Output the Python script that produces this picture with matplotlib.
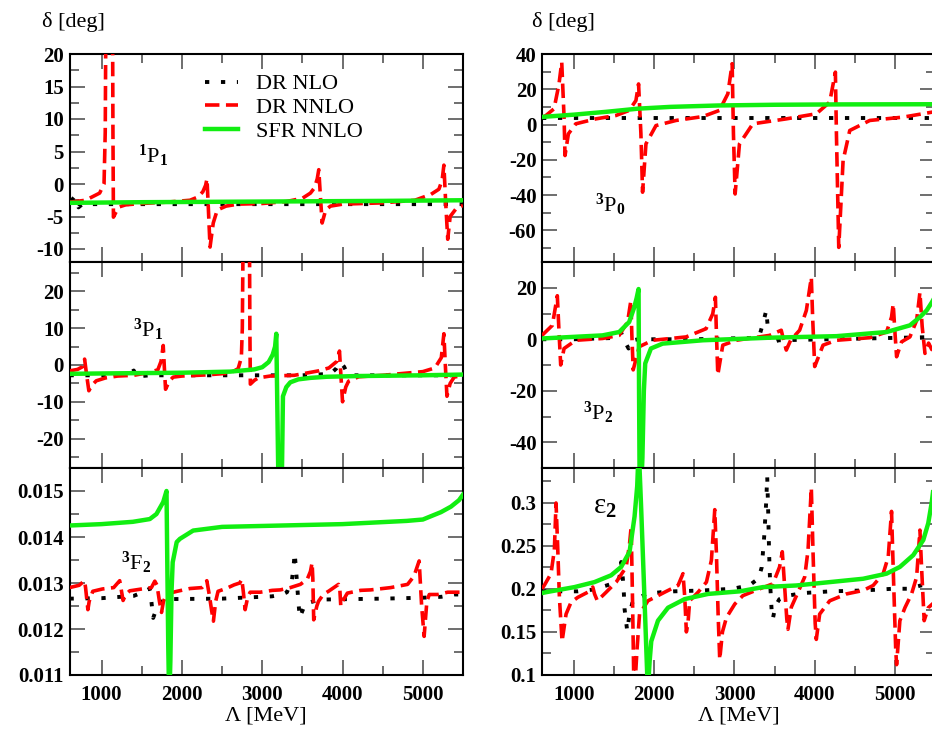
import matplotlib
matplotlib.use('Agg')
import matplotlib.pyplot as plt
from matplotlib.ticker import MultipleLocator, FuncFormatter

plt.rcParams['font.family'] = ['Liberation Serif', 'DejaVu Serif']
plt.rcParams['font.weight'] = 'bold'
plt.rcParams['mathtext.fontset'] = 'custom'
plt.rcParams['mathtext.rm'] = 'Liberation Serif'
plt.rcParams['mathtext.it'] = 'Liberation Serif:italic'
plt.rcParams['mathtext.bf'] = 'Liberation Serif:bold'
plt.rcParams['axes.unicode_minus'] = False

# ---------------- data ----------------
series_labels = ['DR NLO', 'DR NNLO', 'SFR NNLO']
x_label = 'Λ [MeV]'
y_label = 'δ [deg]'
panel_names = [r'$^1$P$_1$', r'$^3$P$_1$', r'$^3$F$_2$', r'$^3$P$_0$', r'$^3$P$_2$', r'ε$_2$']

# 1P1
a_nlo_x = [620, 662, 712, 760, 1500, 2500, 3500, 4500, 5500]
a_nlo_y = [-2.6, -2.0, -3.6, -3.1, -3.1, -3.1, -3.1, -3.1, -3.1]
a_nnlo_x = [600, 800, 975, 1030, 1045, 1055, 1135, 1141, 1147, 1180, 1225, 1300, 1500, 1800, 2100, 2200,
            2260, 2295, 2312, 2330, 2350, 2390, 2440, 2550, 2700, 3000, 3300, 3500, 3600, 3650, 3685, 3704,
            3725, 3746, 3790, 3850, 4000, 4500, 4900, 5100, 5200, 5240, 5262, 5285, 5310, 5340, 5420, 5500]
a_nnlo_y = [-2.8, -2.5, -1.4, 0.0, 8, 30, 30, 8, -5.1, -4.3, -3.5, -3.2, -3.0, -2.8, -2.5, -2.0,
            -1.2, -0.2, 0.8, -4, -9.7, -6, -4, -3.4, -3.1, -3.0, -2.7, -2.2, -1.4, -0.6, 0.8, 2.2,
            -2, -6, -4, -3.4, -3.1, -2.9, -2.5, -1.6, -0.8, 0.6, 2.9, -3, -8.5, -5, -3.7, -3.3]
a_sfr_x = [600, 1500, 3000, 4500, 5500]
a_sfr_y = [-2.9, -2.8, -2.7, -2.6, -2.5]

# 3P1
b_nlo_x = [600, 1000, 1330, 1400, 1450, 1500, 1600, 2500, 3500, 3850, 3920, 3970, 4020, 4060, 4150, 5000, 5500]
b_nlo_y = [-2.8, -2.8, -2.5, -1.5, -3.5, -3.0, -2.8, -2.8, -2.8, -2.4, -1.0, 0.8, -0.5, -2.3, -2.8, -2.8, -2.8]
b_nnlo_x = [600, 700, 760, 788, 815, 841, 880, 933, 1050, 1200, 1400, 1600, 1700, 1740, 1767, 1782,
            1796, 1840, 1890, 2000, 2300, 2600, 2700, 2740, 2752, 2760, 2842, 2846, 2852, 2900, 2950, 3100,
            3400, 3700, 3830, 3930, 3962, 3980, 4000, 4040, 4075, 4200, 4500, 5000, 5150, 5230, 5262, 5280,
            5300, 5340, 5390, 5500]
b_nnlo_y = [-1.6, -1.2, -0.5, 1.6, -3, -7, -5.5, -4.3, -3.5, -3.0, -2.8, -2.0, -1.3, 1, 5.3, -1,
            -6.6, -4.5, -3.3, -3.0, -2.7, -2.2, -1.0, 2, 10, 30, 30, 10, -5.2, -4.2, -3.5, -3.0,
            -2.8, -1.6, -0.8, 1.0, 3.8, -3, -10, -6, -4.4, -3.2, -2.8, -1.8, -0.8, 2, 8.5, 0,
            -8.5, -5, -3.3, -2.8]
b_sfr_x = [600, 1000, 2000, 2600, 2900, 3000, 3080, 3130, 3160, 3175, 3200, 3245, 3258, 3300, 3350,
           3450, 3600, 3800, 4200, 5000, 5500]
b_sfr_y = [-2.4, -2.3, -2.1, -1.8, -1.2, -0.6, 0.8, 2.8, 5.0, 8.5, -30, -30, -8.5, -6.0, -4.7,
           -3.9, -3.5, -3.2, -3.0, -2.8, -2.6]

# 3F2
c_nlo_x = [600, 1000, 1400, 1540, 1600, 1621, 1642, 1683, 1733, 1808, 2500, 3121, 3250, 3308, 3371, 3392,
           3404, 3420, 3433, 3446, 3467, 3537, 3717, 4500, 5000, 5230, 5392, 5500]
c_nlo_y = [0.01266, 0.01267, 0.01272, 0.01282, 0.01288, 0.01258, 0.01224, 0.01244, 0.01258, 0.01265,
           0.01266, 0.01271, 0.01275, 0.0128, 0.01308, 0.0134, 0.01365, 0.01331, 0.01301, 0.01268,
           0.01225, 0.01255, 0.01264, 0.01266, 0.01268, 0.0127, 0.01275, 0.01275]
c_nnlo_x = [600, 720, 787, 800, 829, 845, 890, 1010, 1150, 1225, 1240, 1267, 1300, 1350, 1500, 1620,
            1662, 1690, 1720, 1746, 1770, 1800, 1850, 1940, 2100, 2250, 2290, 2310, 2340, 2370, 2392, 2420,
            2450, 2550, 2650, 2720, 2746, 2765, 2787, 2820, 2850, 2975, 3125, 3225, 3350, 3475, 3560, 3600,
            3621, 3630, 3641, 3680, 3700, 3760, 3825, 3950, 3965, 3978, 4000, 4060, 4225, 4350, 4600, 4810,
            4890, 4954, 4985, 5016, 5050, 5080, 5185, 5310, 5500]
c_nnlo_y = [0.0129, 0.01295, 0.01305, 0.0129, 0.01242, 0.0126, 0.01282, 0.01287, 0.0129, 0.01305,
            0.0129, 0.01262, 0.01275, 0.01283, 0.01287, 0.0129, 0.01304, 0.01295, 0.0126, 0.01236,
            0.0126, 0.01272, 0.01278, 0.01282, 0.01288, 0.0129, 0.01298, 0.01305, 0.01275, 0.0124,
            0.01217, 0.0126, 0.01282, 0.01288, 0.01296, 0.013, 0.01308, 0.0128, 0.01242, 0.0127,
            0.0128, 0.0128, 0.01284, 0.01285, 0.0129, 0.01297, 0.01308, 0.01325, 0.01344, 0.0131,
            0.0122, 0.0125, 0.0126, 0.01275, 0.01282, 0.01297, 0.0129, 0.0125, 0.0126, 0.01278,
            0.01284, 0.01285, 0.0129, 0.01297, 0.01315, 0.01348, 0.0125, 0.01184, 0.0126, 0.01275,
            0.01275, 0.0128, 0.0128]
c_sfr_x = [600, 1000, 1388, 1600, 1683, 1767, 1808, 1818, 1830, 1842, 1856, 1870, 1885, 1935, 1975, 2140,
           2500, 3000, 4000, 4800, 5000, 5225, 5350, 5450, 5500]
c_sfr_y = [0.01425, 0.01428, 0.01433, 0.01439, 0.0145, 0.01476, 0.0150, 0.0134, 0.0116, 0.0104,
           0.0113, 0.0128, 0.01345, 0.01389, 0.01396, 0.01414, 0.01422, 0.01424, 0.01428, 0.01435,
           0.01438, 0.01454, 0.01466, 0.0148, 0.01492]

# 3P0
d_nlo_x = [600, 2000, 4000, 5500]
d_nlo_y = [3.8, 3.8, 3.8, 3.8]
d_nnlo_x = [600, 646, 750, 812, 846, 875, 887, 929, 1021, 1271, 1521, 1687, 1771, 1804, 1833, 1854,
            1896, 2021, 2271, 2604, 2812, 2917, 2971, 2987, 3008, 3062, 3229, 3646, 4021, 4187, 4258, 4271,
            4300, 4354, 4437, 4687, 5104, 5462, 5500]
d_nnlo_y = [4.0, 5.0, 8.9, 23, 35.4, 4.2, -17.6, -5.3, 0.4, 3.2, 5.1, 8, 13.6, 23, -5, -38.4,
            -11, -0.6, 2.3, 4.5, 8, 17.4, 34.5, -5.3, -39.4, -11, 0.4, 3.2, 6.1, 12.7, 29.7, -5.3,
            -69.7, -20.5, -3.4, 2.3, 4.2, 7.0, 7.2]
d_sfr_x = [600, 1000, 1400, 1800, 2200, 2800, 3500, 4300, 5500]
d_sfr_y = [4.3, 5.6, 7.2, 9.0, 10.0, 10.8, 11.2, 11.4, 11.5]

# 3P2
e_nlo_x = [600, 1000, 1500, 1540, 1583, 1625, 1679, 1720, 1800, 2500, 3200, 3312, 3354, 3396, 3417, 3437,
           3500, 3550, 4500, 5400, 5500]
e_nlo_y = [0.0, 0.0, 0.5, 1.5, 2.8, -0.4, -3.6, -0.5, 0.0, 0.0, 0.5, 1.5, 6.0, 11.2, 4.1, -1.7,
           -1.0, -0.4, 0.2, 0.8, 0.8]
e_nnlo_x = [600, 729, 791, 812, 833, 875, 1021, 1354, 1562, 1667, 1708, 1720, 1737, 1812, 1979, 2396,
            2646, 2729, 2762, 2775, 2792, 2854, 3021, 3437, 3583, 3610, 3646, 3700, 3812, 3896, 3958, 3975,
            4000, 4104, 4270, 4687, 4896, 4958, 4979, 5000, 5021, 5083, 5187, 5271, 5312, 5340, 5375, 5420,
            5460, 5500]
e_nnlo_y = [1.5, 5.4, 16.9, 3, -10, -3.6, -0.4, 0.3, 1.5, 6.7, 15, 2, -11.9, -2.9, -0.4, 0.9,
            4.1, 9.9, 16.3, 2, -13.8, -2.3, -0.4, 1.5, 3.5, 0, -4.2, -0.4, 3.5, 11.2, 24, 8,
            -10.6, -2.3, -0.4, 0.6, 2.8, 8.6, 13.7, 3, -6.8, -1, 0.9, 7.3, 18.2, 5, -5.5, -1.5,
            -4, -1]
e_sfr_x = [600, 1354, 1562, 1687, 1750, 1780, 1804, 1810, 1818, 1835, 1852, 1870, 1887, 1958, 2104, 2604,
           3437, 4271, 4896, 5187, 5312, 5396, 5462, 5500]
e_sfr_y = [0.3, 1.5, 2.8, 6.7, 12.4, 16, 19.5, -20, -60, -60, -46, -20, -9.4, -3.6, -1.7, -0.4,
           0.6, 1.2, 2.8, 5.4, 8.6, 11.2, 14.4, 16.5]

# epsilon 2
f_nlo_x = [600, 858, 1046, 1233, 1412, 1540, 1567, 1587, 1608, 1621, 1629, 1650, 1662, 1692, 1733, 1900,
           2083, 2246, 2600, 2979, 3187, 3300, 3340, 3370, 3395, 3408, 3420, 3432, 3445, 3465, 3478, 3510,
           3560, 3667, 3854, 4200, 4600, 4979, 5167, 5333, 5500]
f_nlo_y = [0.197, 0.197, 0.197, 0.199, 0.204, 0.208, 0.214, 0.231, 0.212, 0.194, 0.177, 0.161, 0.151,
           0.171, 0.186, 0.194, 0.196, 0.197, 0.198, 0.200, 0.204, 0.212, 0.225, 0.26, 0.30, 0.33, 0.29,
           0.24, 0.205, 0.172, 0.165, 0.18, 0.188, 0.192, 0.195, 0.197, 0.198, 0.200, 0.200, 0.204, 0.204]
f_nnlo_x = [600, 629, 712, 754, 775, 795, 817, 850, 900, 962, 1046, 1171, 1233, 1255, 1290, 1400,
            1525, 1650, 1692, 1712, 1730, 1745, 1760, 1785, 1816, 1921, 2129, 2296, 2358, 2380, 2400, 2420,
            2441, 2546, 2650, 2712, 2754, 2775, 2796, 2816, 2850, 2900, 3004, 3104, 3312, 3479, 3562, 3596,
            3620, 3652, 3667, 3708, 3792, 3875, 3917, 3958, 3980, 4006, 4020, 4062, 4187, 4396, 4604, 4729,
            4854, 4917, 4958, 4980, 5010, 5021, 5062, 5125, 5208, 5271, 5312, 5335, 5365, 5416, 5500]
f_nnlo_y = [0.200, 0.204, 0.2175, 0.2448, 0.2994, 0.25, 0.19, 0.139, 0.1706, 0.1843, 0.19, 0.196,
            0.202, 0.194, 0.186, 0.196, 0.2077, 0.2253, 0.2526, 0.272, 0.18, 0.09, 0.09, 0.13,
            0.1706, 0.186, 0.196, 0.2038, 0.2175, 0.19, 0.15, 0.16, 0.186, 0.196, 0.2077, 0.233,
            0.2917, 0.24, 0.17, 0.118, 0.15, 0.1667, 0.1823, 0.192, 0.1999, 0.2057, 0.2253, 0.2429,
            0.21, 0.165, 0.153, 0.1785, 0.196, 0.2136, 0.2448, 0.317, 0.24, 0.16, 0.1413, 0.1706,
            0.186, 0.194, 0.198, 0.2038, 0.2175, 0.237, 0.2897, 0.22, 0.13, 0.112, 0.163, 0.178,
            0.194, 0.2136, 0.268, 0.22, 0.163, 0.178, 0.185]
f_sfr_x = [600, 650, 1004, 1254, 1462, 1587, 1692, 1754, 1787, 1800, 1812, 1837, 1879, 1912, 1925, 1942,
           1962, 2046, 2171, 2379, 2671, 3067, 3354, 3771, 4187, 4604, 4896, 5062, 5229, 5354, 5416, 5458,
           5500]
f_sfr_y = [0.195, 0.196, 0.2019, 0.2077, 0.2156, 0.2253, 0.2429, 0.2838, 0.319, 0.35, 0.35, 0.2917,
           0.186, 0.1, 0.09, 0.116, 0.139, 0.163, 0.178, 0.188, 0.194, 0.197, 0.2019, 0.2038, 0.2077,
           0.2116, 0.2175, 0.2253, 0.239, 0.2565, 0.276, 0.2994, 0.33]

x_limits = (600, 5500)
y_limits = [(-12, 20), (-28, 28), (0.011, 0.0155), (-78, 40), (-50, 30), (0.1, 0.34)]
y_major = [5, 10, 0.001, 20, 20, 0.05]
y_minor = [2.5, 5, 0.0005, 10, 10, 0.025]

panel_data = [
    (a_nlo_x, a_nlo_y, a_nnlo_x, a_nnlo_y, a_sfr_x, a_sfr_y),
    (b_nlo_x, b_nlo_y, b_nnlo_x, b_nnlo_y, b_sfr_x, b_sfr_y),
    (c_nlo_x, c_nlo_y, c_nnlo_x, c_nnlo_y, c_sfr_x, c_sfr_y),
    (d_nlo_x, d_nlo_y, d_nnlo_x, d_nnlo_y, d_sfr_x, d_sfr_y),
    (e_nlo_x, e_nlo_y, e_nnlo_x, e_nnlo_y, e_sfr_x, e_sfr_y),
    (f_nlo_x, f_nlo_y, f_nnlo_x, f_nnlo_y, f_sfr_x, f_sfr_y),
]

# ---------------- layout / style ----------------
W, H = 932, 730
fig = plt.figure(figsize=(W / 100, H / 100), dpi=100)

col_lr = [(69.5, 463), (542, 935)]
row_tb = [(54, 262), (262, 468), (468, 675)]
label_pos = [(0.174, 0.476), (0.161, 0.636), (0.131, 0.507), (0.135, 0.24), (0.104, 0.233), (0.13, 0.78)]
label_size = [16, 16, 16, 16, 16, 21]

green = '#11ee11'
axes = []
for i in range(6):
    col, row = divmod(i, 3)
    l, r = col_lr[col]
    t, b = row_tb[row]
    ax = fig.add_axes([l / W, 1 - b / H, (r - l) / W, (b - t) / H])
    axes.append(ax)
    nx, ny, rx, ry, gx, gy = panel_data[i]
    ax.plot(nx, ny, color='black', lw=2.8, dashes=(1.1, 3.0), dash_capstyle='butt',
            label=series_labels[0], zorder=2)
    ax.plot(rx, ry, color='#ff0000', lw=2.6, dashes=(4.0, 1.8), dash_capstyle='butt',
            label=series_labels[1], zorder=3)
    ax.plot(gx, gy, color=green, lw=3.2, label=series_labels[2], zorder=4)
    ax.set_xlim(*x_limits)
    ax.set_ylim(*y_limits[i])
    ax.xaxis.set_major_locator(MultipleLocator(1000))
    ax.xaxis.set_minor_locator(MultipleLocator(500))
    ax.yaxis.set_major_locator(MultipleLocator(y_major[i]))
    ax.yaxis.set_minor_locator(MultipleLocator(y_minor[i]))
    ax.yaxis.set_major_formatter(FuncFormatter(lambda v, p: f'{v:g}'))
    ax.xaxis.set_major_formatter(FuncFormatter(lambda v, p: f'{v:g}'))
    ax.tick_params(which='both', direction='in', top=True, right=True, color='#555555', width=1.2)
    ax.tick_params(which='major', length=11)
    ax.tick_params(which='minor', length=6.5)
    ax.tick_params(axis='y', labelsize=15, pad=4)
    ax.tick_params(axis='x', labelsize=15, pad=7)
    for s in ax.spines.values():
        s.set_linewidth(1.5)
    if row < 2:
        ax.tick_params(axis='x', labelbottom=False)
    else:
        ax.set_xlabel(x_label, fontsize=16, fontweight='normal', labelpad=1)
    ax.text(label_pos[i][0], label_pos[i][1], panel_names[i], transform=ax.transAxes,
            fontsize=label_size[i], fontweight='normal', ha='left', va='baseline')

axes[0].legend(loc='upper left', bbox_to_anchor=(0.344, 0.905), frameon=False,
               prop={'size': 16, 'weight': 'normal'},
               handlelength=1.5, handletextpad=0.8, labelspacing=0.15, borderpad=0, borderaxespad=0)

fig.text(42 / W, 1 - 22 / H, y_label, fontsize=16, fontweight='normal', ha='left', va='center')
fig.text(532 / W, 1 - 22 / H, y_label, fontsize=16, fontweight='normal', ha='left', va='center')

fig.savefig('out.png', dpi=100)
